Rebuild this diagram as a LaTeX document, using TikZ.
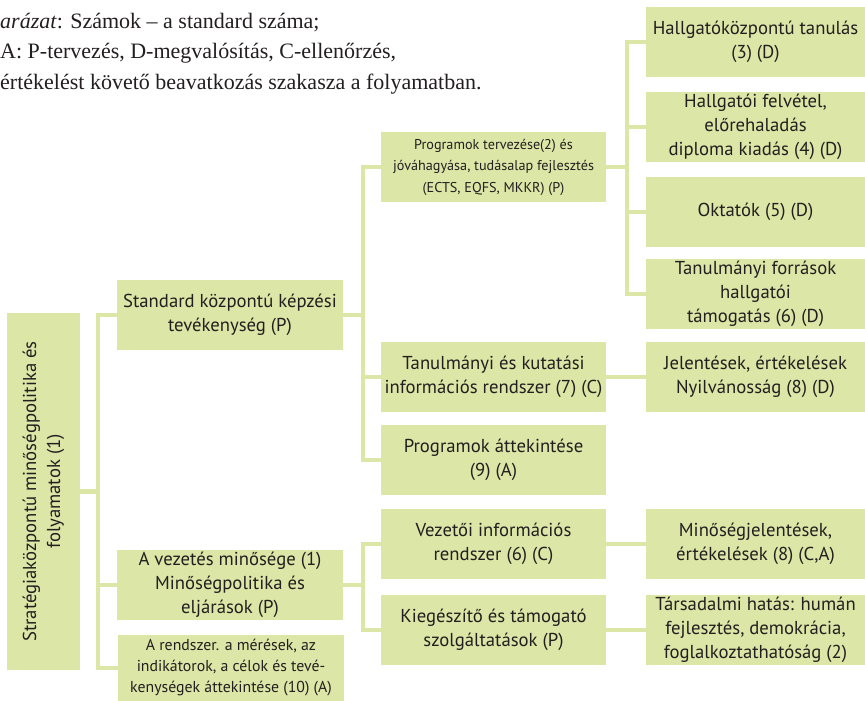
\documentclass[tikz,border=0pt]{standalone}
\usepackage{fontspec}
\setmainfont{PT Sans}
\newfontfamily\legendfont{Liberation Serif}
\usetikzlibrary{calc,positioning}
\definecolor{boxgreen}{RGB}{220,230,166}
\definecolor{textgray}{RGB}{35,31,32}
\def\colA{230}
\def\colB{493.5}
\def\colC{755.5}

\begin{document}
\begin{tikzpicture}[x=1pt, y=-1pt]
    \tikzstyle{box}=[rectangle, fill=boxgreen, inner sep=0pt, align=center, text=textgray, font=\fontsize{18.7}{24}\selectfont]
    \tikzstyle{wide box}=[box, minimum width=226pt, minimum height=70pt]
    \tikzstyle{small box}=[wide box, font=\fontsize{14.2}{21.5}\selectfont]
    \tikzstyle{right box}=[box, minimum width=219pt, minimum height=70pt]
    \tikzstyle{conn}=[draw=boxgreen, line width=4.5pt]
    \tikzstyle{legend}=[anchor=base west, inner sep=0pt, text=textgray, font=\legendfont\fontsize{22}{30}\selectfont]

    \useasboundingbox (0,0) rectangle (865,701);

    % Legend
    \node[legend] (leg-1) at (0,29) {\textit{arázat}: Számok – a standard száma;};
    \node[legend] (leg-2) at (0,59) {A: P-tervezés, D-megvalósítás, C-ellenőrzés,};
    \node[legend] (leg-3) at (0,89) {értékelést követő beavatkozás szakasza a folyamatban.};

    % Root node
    \node[box, rotate=90, minimum width=357pt, minimum height=73pt] (root) at (43.5,491.5)
        {Stratégiaközpontú minőségpolitika és\\folyamatok (1)};

    % First level
    \node[wide box] (std) at (\colA,315) {Standard központú képzési\\tevékenység (P)};
    \node[wide box] (vez) at (\colA,585) {A vezetés minősége (1)\\Minőségpolitika és\\eljárások (P)};
    \node[wide box, minimum height=66pt, font=\fontsize{15.8}{21}\selectfont] (rend) at (\colA+1,668)
        {A rendszer. a mérések, az\\indikátorok, a célok és tevé-\\kenységek áttekintése (10) (A)};

    % Second level
    \node[small box, minimum width=225pt] (progterv) at (\colB,167)
        {Programok tervezése(2) és\\jóváhagyása, tudásalap fejlesztés\\(ECTS, EQFS, MKKR) (P)};
    \foreach \name / \y / \txt in {tankut/377/{Tanulmányi és kutatási\\információs rendszer (7) (C)},
                                   progatt/460/{Programok áttekintése\\(9) (A)},
                                   vezinfo/544/{Vezetői információs\\rendszer (6) (C)},
                                   kieg/630/{Kiegészítő és támogató\\szolgáltatások (P)}}
        \path node[wide box, minimum width=225pt] (\name) at (\colB,\y) {\txt};

    % Third level
    \foreach \name / \y / \txt in {hallg/42/{Hallgatóközpontú tanulás\\(3) (D)},
                                   felv/127/{Hallgatói felvétel,\\előrehaladás\\diploma kiadás (4) (D)},
                                   okt/212/{Oktatók (5) (D)},
                                   forr/294/{Tanulmányi források\\hallgatói\\támogatás (6) (D)},
                                   jel/377/{Jelentések, értékelések\\Nyilvánosság (8) (D)},
                                   minj/544/{Minőségjelentések,\\értékelések (8) (C,A)},
                                   tars/630/{Társadalmi hatás: humán\\fejlesztés, demokrácia,\\foglalkoztathatóság (2)}}
        \path node[right box] (\name) at (\colC,\y) {\txt};

    % Connectors
    \coordinate (bus-1) at (98,491.5);
    \coordinate (bus-2) at (363,315);
    \coordinate (bus-3) at (627,167);
    \coordinate (bus-4) at (363,585);

    \draw[conn] (root) -- (bus-1) |- (std);
    \draw[conn] (bus-1) |- (vez);
    \draw[conn] (bus-1) |- (rend);

    \draw[conn] (std) -- (bus-2) |- (progterv);
    \draw[conn] (bus-2) |- (tankut);
    \draw[conn] (bus-2) |- (progatt);

    \draw[conn] (progterv) -- (bus-3) |- (hallg);
    \draw[conn] (bus-3) |- (felv);
    \draw[conn] (bus-3) |- (okt);
    \draw[conn] (bus-3) |- (forr);

    \draw[conn] (tankut) -- (jel);

    \draw[conn] (vez) -- (bus-4) |- (vezinfo);
    \draw[conn] (bus-4) |- (kieg);
    \draw[conn] (vezinfo) -- (minj);
    \draw[conn] (kieg) -- (tars);
\end{tikzpicture}
\end{document}
